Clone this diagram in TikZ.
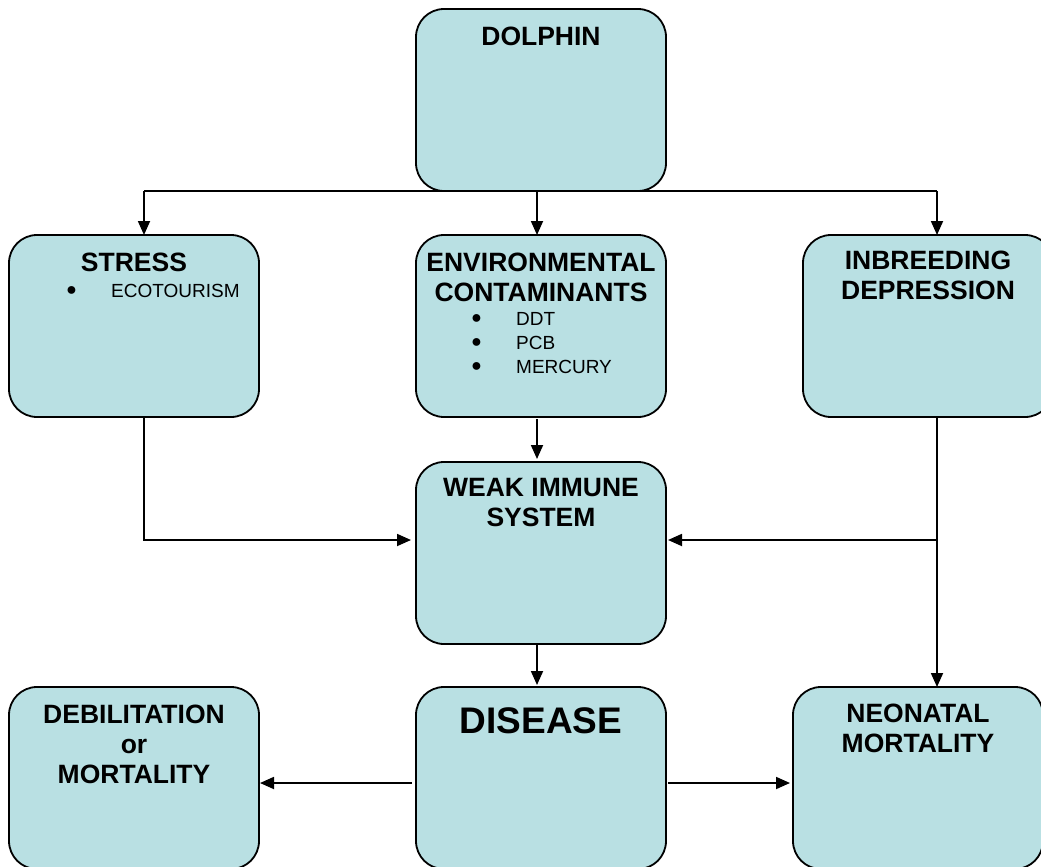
\documentclass[tikz,border=0pt]{standalone}
\usepackage{fontspec}
\setmainfont{Liberation Sans}
\usetikzlibrary{arrows.meta,positioning,calc,backgrounds}
\definecolor{boxfill}{HTML}{B9E0E3}
\tikzset{
  link/.style    = {line width=1.8pt},
  post/.style    = {-{Triangle[length=14pt,width=12pt]}, line width=1.8pt},
  process/.style = {draw, line width=1.8pt, fill=boxfill, rounded corners=28pt,
                    minimum width=250pt, minimum height=182pt, inner sep=0pt,
                    outer sep=0pt},
  title/.style   = {font=\bfseries\fontsize{26.5}{30}\selectfont, align=center, inner sep=0pt},
  items/.style   = {font=\fontsize{19}{24}\selectfont, align=left, inner sep=0pt,
                    anchor=north west}
}
\newcommand{\itm}[1]{\makebox[45pt][l]{\raisebox{1.5pt}{\fontsize{18}{18}\selectfont ●}}#1}

\begin{document}
\begin{tikzpicture}[x=1pt,y=-1pt]
  \path[use as bounding box, clip] (0,0) rectangle (1041,867);

  % boxes
  \node[process] (dolphin) at (541,100) {};
  \node[process] (env)      [below=44pt of dolphin] {};
  \node[process] (stress)   [left=157pt of env] {};
  \node[process] (inbreed)  [right=137pt of env] {};
  \node[process] (weak)     [below=45pt of env] {};
  \node[process] (disease)  [below=43pt of weak] {};
  \node[process] (debil)    [left=157pt of disease] {};
  \node[process] (neonatal) [right=127pt of disease] {};

  % texts
  \node[title, below=18pt of dolphin.north] (dolphin text) {DOLPHIN};
  \node[title, below=18pt of stress.north] (stress text) {STRESS};
  \node[title, below=18pt of env.north] (env text) {ENVIRONMENTAL\\CONTAMINANTS};
  \node[title, below=16pt of inbreed.north] (inbreed text) {INBREEDING\\DEPRESSION};
  \node[title, below=16pt of weak.north] (weak text) {WEAK IMMUNE\\SYSTEM};
  \node[title, font=\bfseries\fontsize{37}{44}\selectfont, below=20pt of disease.north]
    (disease text) {DISEASE};
  \node[title, below=18pt of debil.north] (debil text) {DEBILITATION\\or\\MORTALITY};
  \node[title, below=17pt of neonatal.north] (neonatal text) {NEONATAL\\MORTALITY};
  \node[items] (stress list) at ([xshift=57pt,yshift=-49pt]stress.north west)
    {\itm{ECOTOURISM}};
  \node[items] (env list) at ([xshift=55pt,yshift=-77pt]env.north west)
    {\itm{DDT}\\\itm{PCB}\\\itm{MERCURY}};

  % connectors
  \coordinate (stress in)  at ([xshift=10pt]stress.north);
  \coordinate (stress out) at ([xshift=10pt]stress.south);
  \coordinate (inb in)     at ([xshift=9pt]inbreed.north);
  \coordinate (inb out)    at ([xshift=9pt]inbreed.south);
  \coordinate (mid)        at ([xshift=-4pt]dolphin.south);
  \coordinate (weak left)  at ([yshift=13pt]weak.west);
  \coordinate (weak right) at ([yshift=13pt]weak.east);
  \coordinate (dis left)   at ([yshift=-5pt]disease.west);
  \coordinate (dis right)  at ([yshift=-5pt]disease.east);

  \begin{scope}[on background layer]
    \draw[link] (stress in |- dolphin.south) -- (inb in |- dolphin.south);
  \end{scope}
  \draw[post] (stress in |- dolphin.south) -- (stress in);
  \draw[post] (mid) -- (mid |- env.north);
  \draw[post] (inb in |- dolphin.south) -- (inb in);
  \draw[post, shorten <=2pt, shorten >=3pt] (mid |- env.south) -- (mid |- weak.north);
  \draw[post, shorten >=5pt] (stress out) |- (weak left);
  \draw[post] (inb out) -- (inb out |- neonatal.north);
  \draw[post, shorten >=2pt] (inb out |- weak right) -- (weak right);
  \draw[post, shorten >=2pt] (mid |- weak.south) -- (mid |- disease.north);
  \draw[post, shorten <=4pt, shorten >=1pt] (dis left) -- (dis left -| debil.east);
  \draw[post, shorten <=2pt, shorten >=3pt] (dis right) -- (dis right -| neonatal.west);
\end{tikzpicture}
\end{document}
